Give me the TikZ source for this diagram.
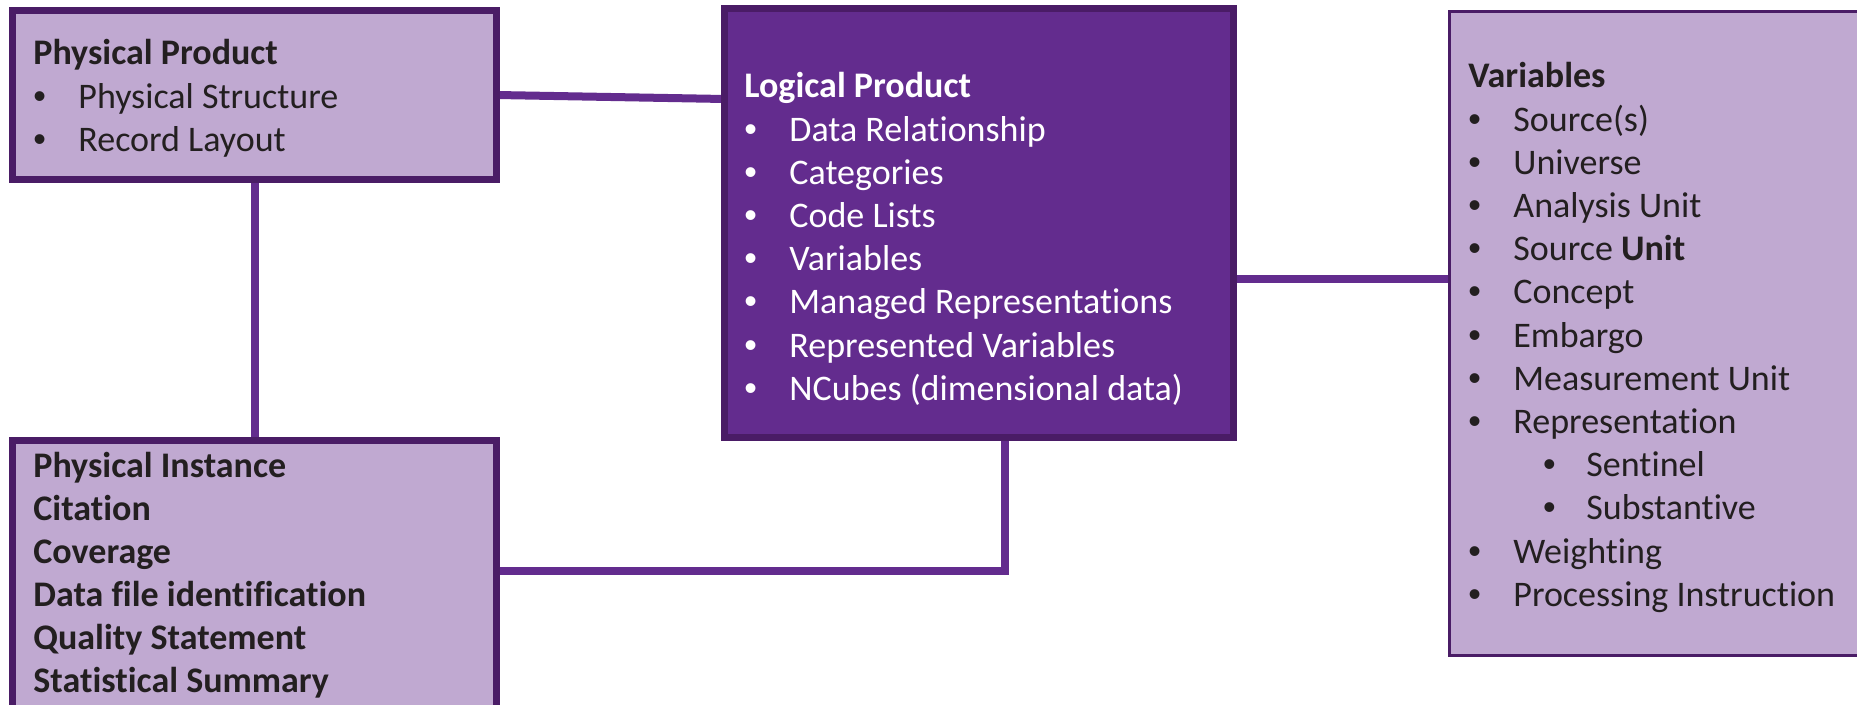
\documentclass[tikz,border=0pt]{standalone}
\usepackage{fontspec}
\setmainfont{Carlito}[Ligatures=NoCommon]
\newfontfamily\bulfont{Liberation Sans}
\usetikzlibrary{calc,backgrounds}
\definecolor{lilac}{HTML}{C0A9D1}
\definecolor{plum}{HTML}{632C8E}
\definecolor{darkplum}{HTML}{4A1C66}
\definecolor{ink}{HTML}{231F20}
% bullet rows
\newcommand{\itm}{\makebox[22.5pt][l]{\bulfont •}}
\newcommand{\subitm}{\hspace*{37.4pt}\makebox[21.6pt][l]{\bulfont •}}
\newcommand{\rows}[1]{\begin{tabular}[t]{@{}l@{}}#1\end{tabular}}

\begin{document}
\begin{tikzpicture}[x=0.5pt,y=-0.5pt,
		lightbox/.style={draw=darkplum, fill=lilac, line width=3.5pt, inner sep=0pt, outer sep=0pt, anchor=north west},
		darkbox/.style={lightbox, fill=plum},
		link/.style={draw=plum, line width=4pt},
		txt/.style={anchor=base west, inner sep=0pt, text=ink, font=\fontsize{18}{21.6}\selectfont}
		]
		\useasboundingbox (0,0) rectangle (1857,705);
		\clip (0,0) rectangle (1857,705);
		% boxes
		\node[lightbox, minimum width=242pt, minimum height=84.5pt] (pp) at (12.5,10.5) {};
		\node[lightbox, minimum width=242pt, minimum height=140pt] (pi) at (12.5,440.5) {};
		\node[darkbox, minimum width=254.5pt, minimum height=214.5pt] (lp) at (724.5,8.5) {};
		\node[lightbox, line width=1.5pt, minimum width=220pt, minimum height=322pt] (var) at (1449.5,11.5) {};
		% texts
		\node[txt] (pptxt) at (33,65) {\rows{\textbf{Physical Product}\\ \itm Physical Structure\\ \itm Record Layout}};
		\node[txt] (pitxt) at (33,477) {\rows{\bfseries Physical Instance\\ \bfseries Citation\\ \bfseries Coverage\\ \bfseries Data file identification\\ \bfseries Quality Statement\\ \bfseries Statistical Summary}};
		\node[txt, text=white] (lptxt) at (744,98) {\rows{\textbf{Logical Product}\\ \itm Data Relationship\\ \itm Categories\\ \itm Code Lists\\ \itm Variables\\ \itm Managed Representations\\ \itm Represented Variables\\ \itm NCubes (dimensional data)}};
		\node[txt] (vartxt) at (1468,88) {\rows{\textbf{Variables}\\ \itm Source(s)\\ \itm Universe\\ \itm Analysis Unit\\ \itm Source \textbf{Unit}\\ \itm Concept\\ \itm Embargo\\ \itm Measurement Unit\\ \itm Representation\\ \subitm Sentinel\\ \subitm Substantive\\ \itm Weighting\\ \itm Processing Instruction}};
		% connectors
		\coordinate (lpv) at ($(lp.north east)+(0,270.5)$);
		\coordinate (pibend) at (1005,571);
		\begin{scope}[on background layer]
			\draw[link] (pp.east) -- ($(pp.east -| lp.west)+(0,4)$);
			\draw[link] (pp.south) -- (pp.south |- pi.north);
			\draw[link] (lpv) -- (lpv -| var.west);
			\draw[link] (pibend -| pi.east) -- (pibend) -- (pibend |- lp.south);
		\end{scope}
	\end{tikzpicture}
\end{document}
